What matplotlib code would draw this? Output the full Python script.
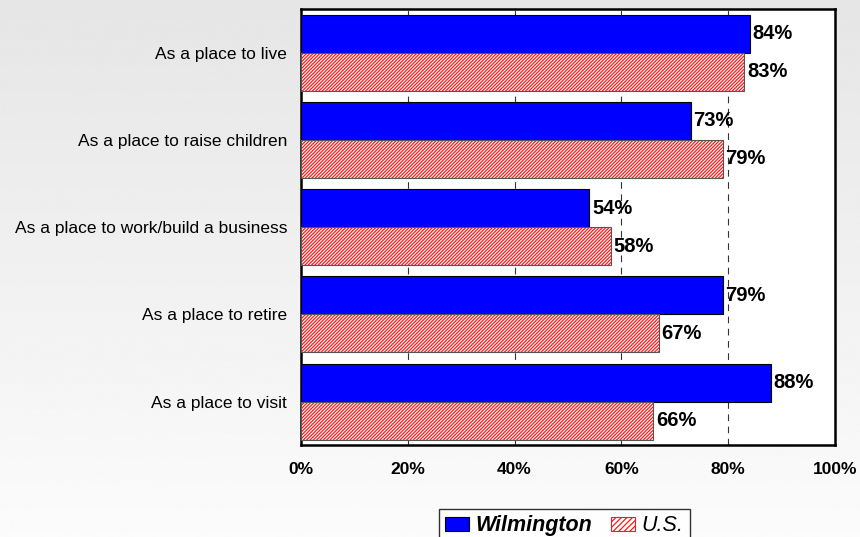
import numpy as np
import matplotlib.pyplot as plt
from matplotlib.patches import Patch

categories = ['As a place to live', 'As a place to raise children',
              'As a place to work/build a business', 'As a place to retire',
              'As a place to visit']
wilmington = [84, 73, 54, 79, 88]
us = [83, 79, 58, 67, 66]
xticks = [0, 20, 40, 60, 80, 100]

plt.rcParams['font.family'] = ['Liberation Sans', 'DejaVu Sans']
plt.rcParams['hatch.linewidth'] = 0.9

fig = plt.figure(figsize=(8.6, 5.37), dpi=100)

# gray gradient background
bg = fig.add_axes([0, 0, 1, 1], zorder=-10)
grad = np.linspace(0.90, 0.985, 256).reshape(-1, 1)
bg.imshow(grad, aspect='auto', cmap='gray', vmin=0, vmax=1, extent=[0, 1, 0, 1])
bg.axis('off')

ax = fig.add_axes([0.35, 0.171, 0.621, 0.812])
ax.set_facecolor('white')

y = np.arange(len(categories))
h = 0.435
hatch = '//////////'

ax.barh(y - h / 2, wilmington, height=h, color='#0000ff', edgecolor='black',
        linewidth=0.8, zorder=3)
ax.barh(y + h / 2, us, height=h, color='white', edgecolor='#ff1a1a',
        hatch=hatch, linewidth=0, zorder=3)
ax.barh(y + h / 2, us, height=h, fill=False, edgecolor='#555555',
        linewidth=0.8, zorder=4)

for i in range(len(categories)):
    ax.text(wilmington[i] + 0.5, y[i] - h / 2, f'{wilmington[i]}%', va='center',
            ha='left', fontsize=14.5, fontweight='bold', zorder=5)
    ax.text(us[i] + 0.5, y[i] + h / 2, f'{us[i]}%', va='center',
            ha='left', fontsize=14.5, fontweight='bold', zorder=5)

ax.set_xlim(0, 100)
ax.set_ylim(len(categories) - 0.5, -0.5)
ax.set_xticks(xticks)
ax.set_xticklabels([f'{t}%' for t in xticks], fontsize=12.5, fontweight='bold')
ax.set_yticks(y)
ax.set_yticklabels(categories, fontsize=12.5)
ax.tick_params(axis='both', length=0, pad=10)
ax.tick_params(axis='x', pad=12)

for t in xticks[1:-1]:
    ax.axvline(t, color='#333333', linestyle=(0, (6, 5)), linewidth=0.8, zorder=1)

for s in ax.spines.values():
    s.set_linewidth(1.8)
    s.set_color('black')

handles = [Patch(facecolor='#0000ff', edgecolor='black', linewidth=0.8),
           Patch(facecolor='white', edgecolor='#ff1a1a', hatch='//////', linewidth=0.8)]
leg = fig.legend(handles, ['Wilmington', 'U.S.'], loc='upper center',
                 bbox_to_anchor=(0.656, 1 - 509 / 537), ncol=2, frameon=True,
                 fancybox=False, edgecolor='black', fontsize=15.5,
                 handlelength=1.1, handleheight=0.6, handletextpad=0.3,
                 columnspacing=0.9, borderpad=0.3, borderaxespad=0)
leg.get_frame().set_linewidth(1.0)
leg.get_frame().set_facecolor('white')
texts = leg.get_texts()
texts[0].set_fontweight('bold')
texts[0].set_fontstyle('italic')
texts[1].set_fontstyle('italic')

fig.savefig('out.png', dpi=100)
